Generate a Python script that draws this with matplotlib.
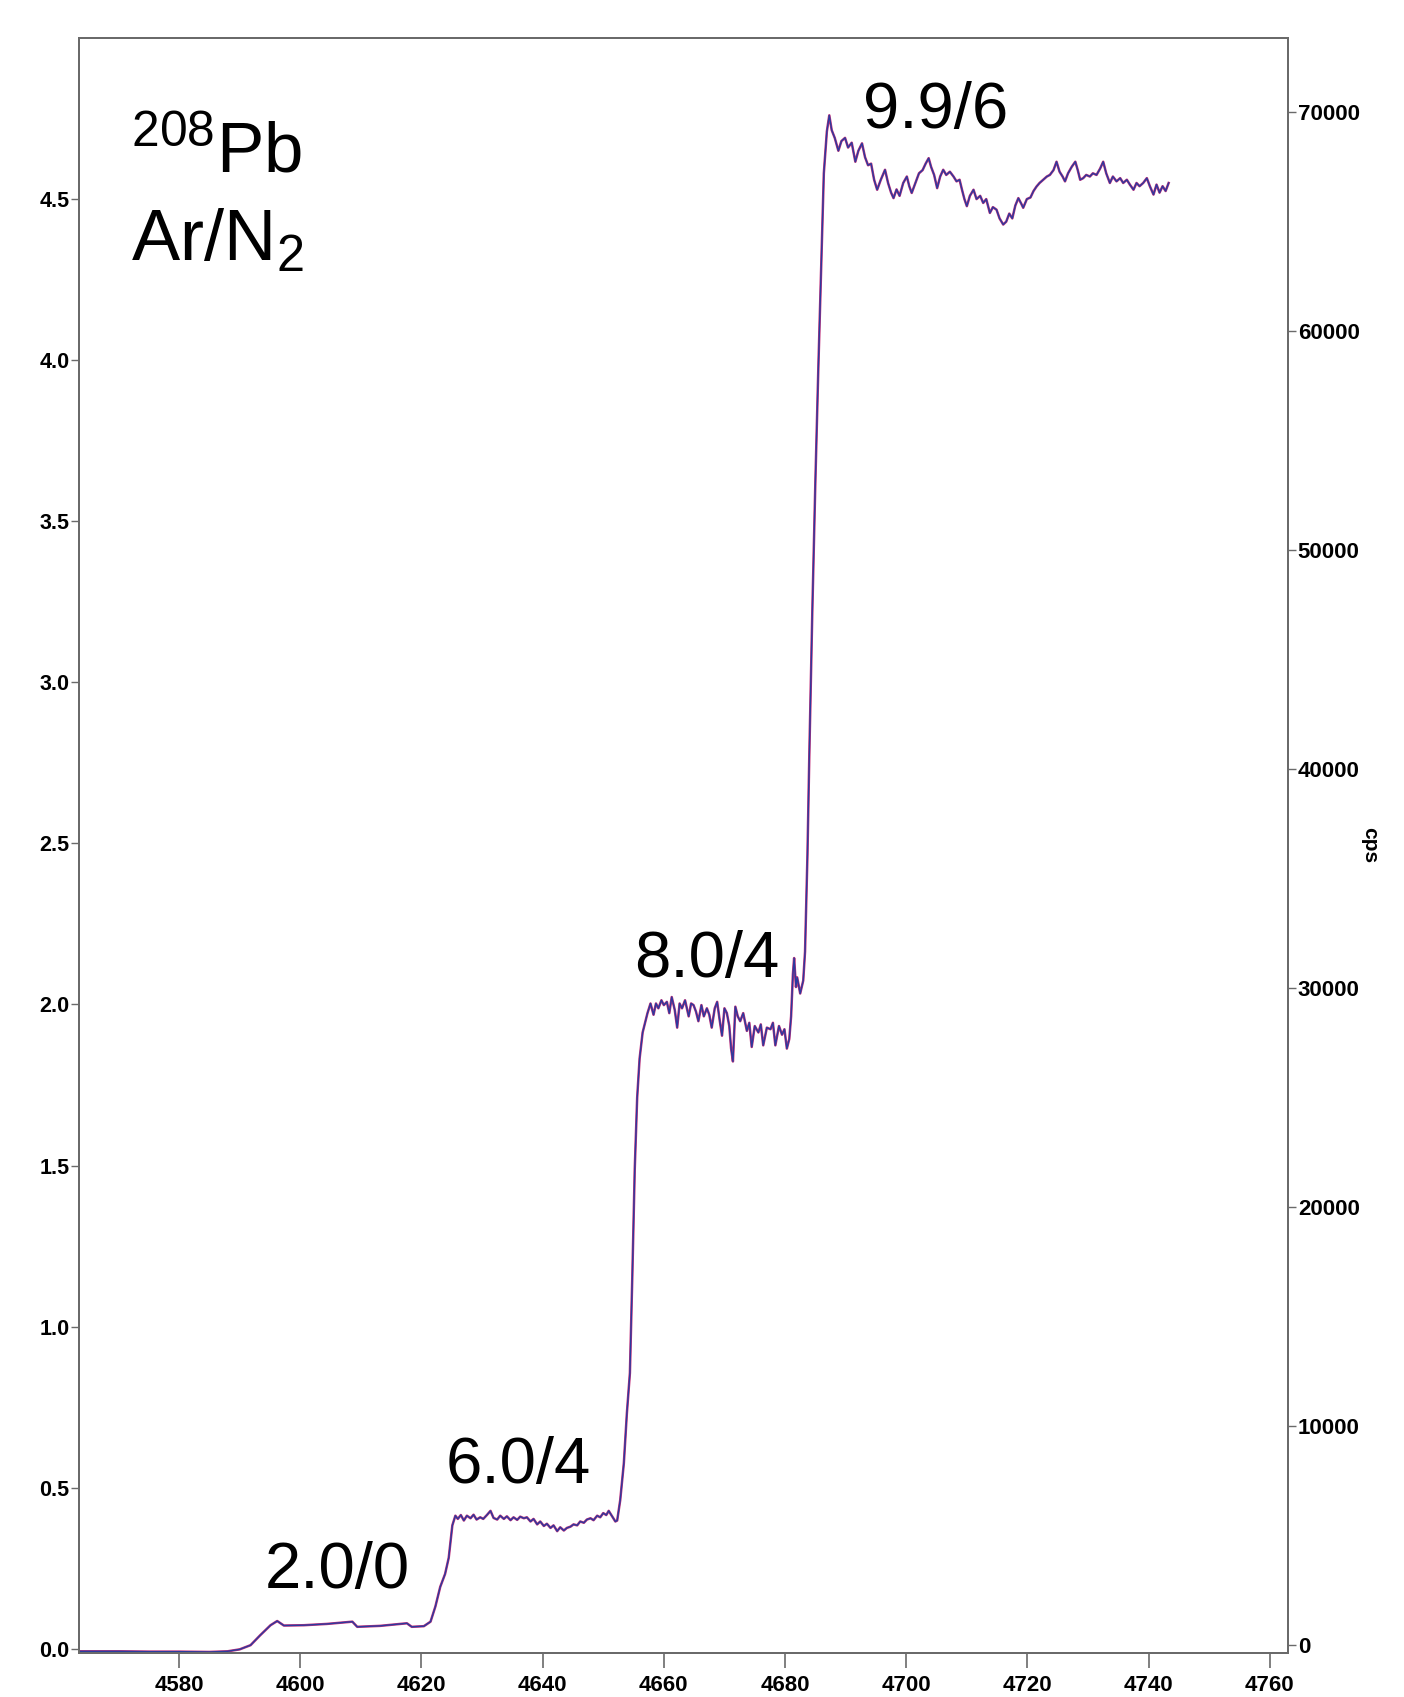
import matplotlib
matplotlib.use("Agg")
import matplotlib.pyplot as plt

plt.rcParams['font.family'] = ['Liberation Sans', 'DejaVu Sans']
plt.rcParams['mathtext.fontset'] = 'custom'
plt.rcParams['mathtext.rm'] = 'Liberation Sans'

# ---- data (time vs signal) ----
time = [4563.5, 4570, 4575, 4580, 4585, 4588, 4590, 4591.8, 4593.4, 4595.1, 4596.2, 4597.3,
        4600.6, 4604.4, 4608.6, 4609.4, 4613.2, 4617.6, 4618.4, 4620.4, 4621.5, 4622.3, 4623.1,
        4623.9, 4624.5, 4625.1, 4625.6,
        4626.0, 4626.5, 4627.0, 4627.5, 4628.1, 4628.6, 4629.1, 4629.7, 4630.2, 4630.8, 4631.4,
        4631.9, 4632.5, 4633.0, 4633.6, 4634.1, 4634.7, 4635.2, 4635.8, 4636.3, 4636.9, 4637.4,
        4638.0, 4638.5, 4639.1, 4639.6, 4640.2, 4640.7, 4641.3, 4641.8, 4642.4, 4642.9, 4643.5,
        4644.0, 4644.6, 4645.1, 4645.7, 4646.2, 4646.8, 4647.3, 4647.9, 4648.4, 4649.0, 4649.5,
        4650.0, 4650.5, 4650.9, 4651.4, 4652.0, 4652.3, 4652.8, 4653.4, 4653.9, 4654.4, 4654.8,
        4655.2, 4655.6, 4656.0, 4656.5, 4656.9,
        4657.3, 4657.8, 4658.3, 4658.7, 4659.1, 4659.6, 4660.0, 4660.5, 4660.9, 4661.3, 4661.8,
        4662.2, 4662.6, 4663.0, 4663.5, 4664.1, 4664.5, 4664.9, 4665.3, 4665.7, 4666.2, 4666.6,
        4667.1, 4667.5, 4667.9, 4668.4, 4668.8, 4669.2, 4669.6, 4670.0, 4670.4, 4670.8, 4671.1,
        4671.4, 4671.8, 4672.2, 4672.6, 4673.1, 4673.7, 4674.1, 4674.5, 4675.0, 4675.6, 4676.0,
        4676.4, 4677.0, 4677.6, 4678.0, 4678.4, 4679.0, 4679.5, 4679.9, 4680.3, 4680.7, 4681.0,
        4681.3, 4681.5, 4681.8, 4682.0, 4682.5, 4683.0, 4683.3, 4683.7, 4684.0, 4684.5, 4685.0,
        4685.5, 4685.9, 4686.4, 4686.9, 4687.3,
        4687.7, 4688.2, 4688.8, 4689.3, 4689.9, 4690.4, 4691.0, 4691.6, 4692.1, 4692.7, 4693.2,
        4693.7, 4694.2, 4694.7, 4695.2, 4695.8, 4696.5, 4697.0, 4697.5, 4697.9, 4698.4, 4698.9,
        4699.5, 4700.1, 4700.5, 4700.9, 4701.5, 4702.1, 4702.7, 4703.2, 4703.7, 4704.1, 4704.6,
        4705.1, 4705.6, 4706.1, 4706.6, 4707.2, 4707.8, 4708.3, 4708.8, 4709.2, 4709.6, 4710.0,
        4710.5, 4711.1, 4711.6, 4712.2, 4712.7, 4713.2, 4713.8, 4714.3, 4714.9, 4715.4, 4716.0,
        4716.5, 4717.0, 4717.5, 4718.0, 4718.5, 4719.0, 4719.3, 4719.9, 4720.5, 4721.0, 4721.5,
        4722.0, 4722.6, 4723.2, 4723.7, 4724.3, 4724.8, 4725.3, 4725.8, 4726.2, 4726.7, 4727.3,
        4727.9, 4728.3, 4728.7, 4729.2, 4729.7, 4730.3, 4730.8, 4731.4, 4732.0, 4732.5, 4733.0,
        4733.6, 4734.1, 4734.7, 4735.3, 4735.8, 4736.4, 4736.9, 4737.5, 4738.0, 4738.5, 4739.1,
        4739.7, 4740.2, 4740.8, 4741.3, 4741.8, 4742.3, 4742.8, 4743.3]

signal = [-0.008, -0.008, -0.009, -0.009, -0.010, -0.008, -0.002, 0.011, 0.042, 0.073, 0.086, 0.072,
          0.073, 0.077, 0.084, 0.068, 0.071, 0.079, 0.068, 0.070, 0.084, 0.131, 0.192,
          0.232, 0.282, 0.383, 0.413,
          0.403, 0.415, 0.398, 0.413, 0.405, 0.416, 0.401, 0.408, 0.403, 0.415, 0.428,
          0.406, 0.401, 0.413, 0.403, 0.411, 0.399, 0.408, 0.400, 0.410, 0.405, 0.408,
          0.395, 0.403, 0.386, 0.395, 0.381, 0.388, 0.375, 0.383, 0.365, 0.377, 0.367,
          0.375, 0.379, 0.386, 0.383, 0.395, 0.391, 0.401, 0.405, 0.399, 0.413, 0.408,
          0.421, 0.415, 0.428, 0.413, 0.395, 0.398, 0.461, 0.576, 0.731, 0.856, 1.158,
          1.490, 1.711, 1.832, 1.913, 1.943,
          1.973, 2.003, 1.968, 2.003, 1.988, 2.013, 1.998, 2.008, 1.973, 2.023, 1.983,
          1.928, 2.003, 1.988, 2.013, 1.963, 2.003, 1.998, 1.978, 1.948, 1.998, 1.963,
          1.988, 1.968, 1.928, 1.988, 2.008, 1.953, 1.903, 1.988, 1.973, 1.933, 1.863,
          1.823, 1.993, 1.963, 1.948, 1.973, 1.918, 1.943, 1.868, 1.933, 1.913, 1.938,
          1.873, 1.928, 1.923, 1.943, 1.873, 1.933, 1.906, 1.923, 1.863, 1.893, 1.963,
          2.094, 2.144, 2.054, 2.084, 2.034, 2.074, 2.164, 2.466, 2.770, 3.220, 3.620,
          3.980, 4.250, 4.580, 4.710, 4.760,
          4.714, 4.690, 4.650, 4.680, 4.690, 4.660, 4.675, 4.616, 4.650, 4.673, 4.630,
          4.605, 4.610, 4.560, 4.529, 4.560, 4.591, 4.550, 4.520, 4.503, 4.530, 4.510,
          4.550, 4.570, 4.540, 4.519, 4.550, 4.580, 4.590, 4.610, 4.627, 4.600, 4.575,
          4.534, 4.570, 4.591, 4.575, 4.585, 4.570, 4.555, 4.560, 4.529, 4.500, 4.478,
          4.510, 4.529, 4.500, 4.510, 4.488, 4.500, 4.457, 4.475, 4.467, 4.440, 4.421,
          4.430, 4.455, 4.440, 4.480, 4.503, 4.485, 4.473, 4.500, 4.505, 4.525, 4.539,
          4.550, 4.560, 4.570, 4.575, 4.590, 4.616, 4.585, 4.570, 4.555, 4.580, 4.600,
          4.616, 4.590, 4.560, 4.565, 4.575, 4.570, 4.580, 4.575, 4.595, 4.616, 4.580,
          4.550, 4.570, 4.555, 4.565, 4.550, 4.560, 4.545, 4.529, 4.550, 4.540, 4.550,
          4.565, 4.540, 4.514, 4.545, 4.520, 4.540, 4.525, 4.550]

x_ticks = [4580, 4600, 4620, 4640, 4660, 4680, 4700, 4720, 4740, 4760]
left_ticks = [0.0, 0.5, 1.0, 1.5, 2.0, 2.5, 3.0, 3.5, 4.0, 4.5]
right_ticks = [0, 10000, 20000, 30000, 40000, 50000, 60000, 70000]

labels = ["2.0/0", "6.0/4", "8.0/4", "9.9/6"]
label_pos = [(4606.1, 0.19), (4635.9, 0.513), (4667.0, 2.085), (4704.8, 4.72)]

# ---- figure ----
fig = plt.figure(figsize=(14.04, 16.97), dpi=100)
ax = fig.add_axes([0.0563, 0.0259, 0.8611, 0.9517])
spine_col = '#6a6a6a'

ax.plot(time, signal, color='#c0307a', lw=1.8, solid_joinstyle='round')
ax.plot(time, signal, color='#2b3a9e', lw=1.0, solid_joinstyle='round')

ax.set_xlim(4563.5, 4763)
ax.set_ylim(-0.0134, 5.0)
ax.set_xticks(x_ticks)
ax.set_yticks(left_ticks)
ax.set_yticklabels([f"{t:.1f}" for t in left_ticks])

ax2 = ax.twinx()
ax2.set_ylim(-346, 73370)
ax2.set_yticks(right_ticks)
ax2.set_yticklabels([str(t) for t in right_ticks])
ax2.set_ylabel('cps', rotation=270, fontsize=15, fontweight='bold', labelpad=14)

for a in (ax, ax2):
    for s in a.spines.values():
        s.set_color(spine_col)
        s.set_linewidth(1.4)

ax.tick_params(axis='x', direction='out', length=11, width=1.2, color=spine_col,
               labelsize=16, pad=5)
ax.tick_params(axis='y', direction='out', length=6, width=1.0, color=spine_col,
               labelsize=15.5, pad=1)
ax2.tick_params(axis='y', direction='out', length=6, width=1.0, color=spine_col,
                labelsize=16, pad=1)
for lab in ax.get_xticklabels() + ax.get_yticklabels() + ax2.get_yticklabels():
    lab.set_fontweight('bold')

for txt, (xp, yp) in zip(labels, label_pos):
    ax.text(xp, yp, txt, fontsize=47, ha='center', va='baseline', color='black')

ax.text(4572, 4.585, r'$\mathregular{^{208}}$Pb', fontsize=51, ha='left', va='baseline')
ax.text(4572, 4.31, r'Ar/N$\mathregular{_2}$', fontsize=52, ha='left', va='baseline')

fig.savefig('out.png', dpi=100, facecolor='white')
